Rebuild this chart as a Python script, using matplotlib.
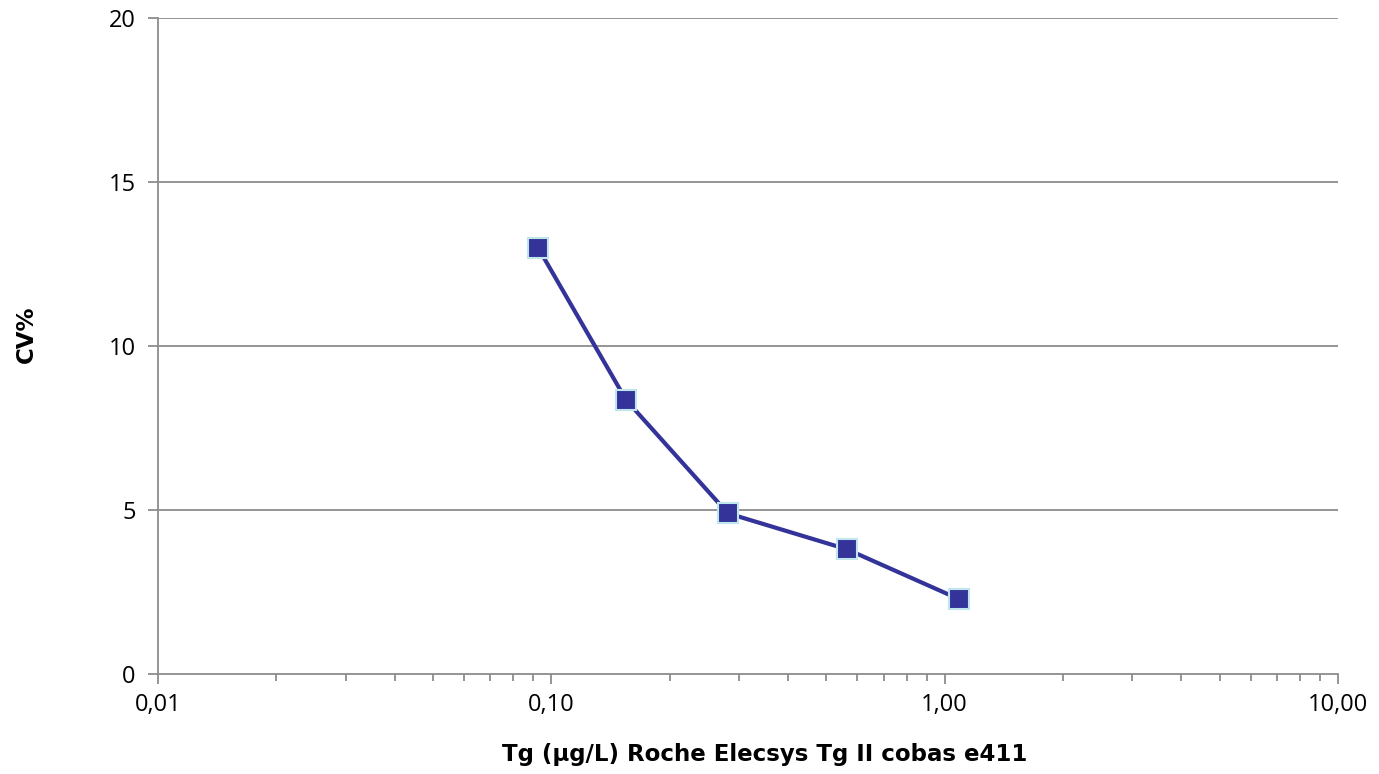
import matplotlib
matplotlib.use('Agg')
import matplotlib.pyplot as plt
from matplotlib.ticker import FixedLocator, LogLocator, NullFormatter

# data
tg_conc = [0.0925, 0.155, 0.281, 0.565, 1.089]
cv_pct = [13.0, 8.35, 4.9, 3.8, 2.28]
x_ticks = [0.01, 0.1, 1, 10]
x_tick_labels = ['0,01', '0,10', '1,00', '10,00']
y_ticks = [0, 5, 10, 15, 20]

plt.rcParams['font.family'] = ['Open Sans', 'DejaVu Sans']

fig = plt.figure(figsize=(13.79, 7.74), dpi=100)
ax = fig.add_axes([158 / 1379, 1 - 674 / 774, (1338 - 158) / 1379, (674 - 18) / 774])

grid_col = '#8c8c8c'
ax.set_xscale('log')
ax.set_xlim(0.01, 10)
ax.set_ylim(0, 20)

for y in y_ticks[1:]:
    ax.axhline(y, color=grid_col, lw=1.3, zorder=1)

ax.plot(tg_conc, cv_pct, color='#333399', lw=3, marker='s', markersize=14,
        markerfacecolor='#333399', markeredgecolor='#bfe6ec', markeredgewidth=1.5, zorder=3)

ax.xaxis.set_major_locator(FixedLocator(x_ticks))
ax.set_xticklabels(x_tick_labels)
ax.xaxis.set_minor_locator(LogLocator(base=10, subs=range(2, 10)))
ax.xaxis.set_minor_formatter(NullFormatter())
ax.set_yticks(y_ticks)

for s in ['top', 'right']:
    ax.spines[s].set_visible(False)
for s in ['left', 'bottom']:
    ax.spines[s].set_color(grid_col)
    ax.spines[s].set_linewidth(1.3)

ax.tick_params(axis='both', which='major', labelsize=17, color=grid_col, width=1.3, length=7, direction='out')
ax.tick_params(axis='x', which='minor', color=grid_col, width=1.3, length=5)
ax.tick_params(axis='x', which='major', pad=7)
ax.tick_params(axis='y', which='major', pad=9)

lab_font = dict(family='DejaVu Sans', fontsize=16.5, fontweight='bold')
ax.set_xlabel('Tg (µg/L) Roche Elecsys Tg II cobas e411', labelpad=16, **lab_font)
ax.xaxis.set_label_coords(0.514, -0.105)
ax.set_ylabel('CV%', labelpad=52, **lab_font)
ax.yaxis.set_label_coords(-0.102, 0.518)

fig.savefig('out.png', dpi=100)
